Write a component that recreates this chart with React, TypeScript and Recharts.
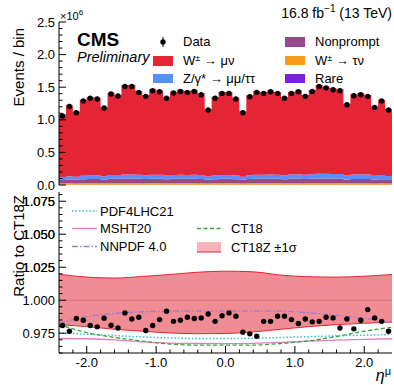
import React from 'react';
import { ComposedChart, Area, Line, Scatter, XAxis, YAxis, ReferenceLine } from 'recharts';

const FONT = '"Liberation Sans", Arial, Helvetica, sans-serif';

// 48 bins of 0.1 in muon pseudorapidity
const etaMin = -2.4;
const binWidth = 0.1;

// events / bin in units of 10^6
const dataCounts = [
  1.06, 1.205, 1.11, 1.29, 1.33, 1.32, 1.18, 1.395, 1.365, 1.51, 1.51, 1.42,
  1.36, 1.445, 1.43, 1.33, 1.41, 1.435, 1.42, 1.435, 1.385, 1.15, 1.33, 1.405,
  1.405, 1.32, 1.11, 1.355, 1.42, 1.405, 1.43, 1.405, 1.33, 1.405, 1.43, 1.36,
  1.435, 1.51, 1.49, 1.46, 1.445, 1.23, 1.37, 1.385, 1.36, 1.19, 1.29, 1.15,
];
const wmunu = [
  0.954, 1.088, 0.999, 1.168, 1.204, 1.193, 1.063, 1.264, 1.233, 1.371, 1.371, 1.285,
  1.229, 1.31, 1.295, 1.203, 1.276, 1.3, 1.286, 1.3, 1.254, 1.037, 1.205, 1.271,
  1.271, 1.194, 0.999, 1.224, 1.284, 1.269, 1.291, 1.267, 1.199, 1.266, 1.288, 1.223,
  1.292, 1.36, 1.34, 1.313, 1.299, 1.1, 1.229, 1.242, 1.218, 1.065, 1.155, 1.029,
];
const zll = [
  0.045, 0.05, 0.048, 0.053, 0.055, 0.056, 0.052, 0.058, 0.058, 0.062, 0.062, 0.06,
  0.058, 0.061, 0.06, 0.057, 0.06, 0.061, 0.06, 0.061, 0.059, 0.05, 0.056, 0.06,
  0.06, 0.057, 0.049, 0.059, 0.062, 0.062, 0.064, 0.064, 0.061, 0.065, 0.067, 0.065,
  0.069, 0.073, 0.073, 0.072, 0.072, 0.063, 0.07, 0.071, 0.07, 0.062, 0.067, 0.06,
];
const nonprompt = [
  0.055, 0.06, 0.057, 0.062, 0.064, 0.064, 0.058, 0.066, 0.066, 0.07, 0.07, 0.067,
  0.065, 0.067, 0.067, 0.063, 0.066, 0.067, 0.066, 0.067, 0.065, 0.056, 0.062, 0.066,
  0.066, 0.062, 0.055, 0.064, 0.066, 0.066, 0.067, 0.066, 0.063, 0.066, 0.067, 0.064,
  0.067, 0.07, 0.069, 0.068, 0.067, 0.059, 0.064, 0.065, 0.064, 0.057, 0.061, 0.055,
];
const wtaunu = [
  0.018, 0.02, 0.019, 0.021, 0.022, 0.022, 0.02, 0.023, 0.023, 0.025, 0.025, 0.024,
  0.023, 0.024, 0.024, 0.022, 0.024, 0.024, 0.024, 0.024, 0.023, 0.019, 0.022, 0.024,
  0.024, 0.022, 0.019, 0.023, 0.024, 0.024, 0.024, 0.024, 0.022, 0.024, 0.024, 0.023,
  0.024, 0.025, 0.025, 0.024, 0.024, 0.021, 0.023, 0.023, 0.023, 0.02, 0.022, 0.019,
];
const rare = [
  0.004, 0.005, 0.004, 0.005, 0.005, 0.005, 0.005, 0.005, 0.005, 0.005, 0.005, 0.005,
  0.005, 0.005, 0.005, 0.005, 0.005, 0.005, 0.005, 0.005, 0.005, 0.005, 0.005, 0.005,
  0.005, 0.005, 0.005, 0.005, 0.005, 0.005, 0.005, 0.005, 0.005, 0.005, 0.005, 0.005,
  0.005, 0.005, 0.005, 0.005, 0.005, 0.005, 0.005, 0.005, 0.005, 0.004, 0.004, 0.004,
];

// data / CT18Z
const ratioData = [
  0.9808, 0.9765, 0.9861, 0.9848, 0.9808, 0.9798, 0.9864, 0.981, 0.979, 0.9904, 0.9858, 0.9871,
  0.977, 0.9808, 0.9853, 0.9917, 0.984, 0.9848, 0.9871, 0.9861, 0.9866, 0.9896, 0.984, 0.9882,
  0.9904, 0.9879, 0.9758, 0.9745, 0.9727, 0.984, 0.984, 0.9879, 0.9879, 0.9853, 0.9823, 0.9858,
  0.9836, 0.984, 0.9871, 0.9866, 0.979, 0.9858, 0.9783, 0.9848, 0.9929, 0.9866, 0.984, 0.9765,
];

// PDF predictions relative to CT18Z
const curveEta = [-2.4, -2.0, -1.6, -1.2, -0.8, -0.4, 0, 0.4, 0.8, 1.2, 1.6, 2.0, 2.4];
const ct18zCentral = [1, 1, 1, 1, 1, 1, 1, 1, 1, 1, 1, 1, 1];
const ct18zUp = [1.0197, 1.0175, 1.0168, 1.018, 1.0195, 1.0212, 1.022, 1.0215, 1.019, 1.0178, 1.0175, 1.0182, 1.0195];
const ct18zDown = [0.9815, 0.98, 0.978, 0.9765, 0.9752, 0.9746, 0.9748, 0.976, 0.978, 0.98, 0.9815, 0.9825, 0.9835];
const pdf4lhc21 = [0.9752, 0.9742, 0.9732, 0.9722, 0.9714, 0.971, 0.971, 0.9712, 0.9718, 0.9724, 0.973, 0.9735, 0.974];
const msht20 = [0.971, 0.9708, 0.97, 0.9685, 0.9675, 0.9672, 0.9671, 0.9673, 0.968, 0.969, 0.9698, 0.9703, 0.9708];
const nnpdf40 = [0.9825, 0.9875, 0.99, 0.9912, 0.9917, 0.9918, 0.9918, 0.9918, 0.9917, 0.9905, 0.9885, 0.9862, 0.9835];
const ct18 = [0.9815, 0.9755, 0.9718, 0.969, 0.9668, 0.966, 0.9659, 0.966, 0.9672, 0.9692, 0.9725, 0.9765, 0.9795];

// labelled ticks of the ratio axis above unity
const ratioUpperLabels = [1.025, 1.05, 1.075];

const COL = {
  wmunu: '#e42536',
  zll: '#5790fc',
  nonprompt: '#964a8b',
  wtaunu: '#f89c20',
  rare: '#7a21dd',
  band: '#f08c94',
  pdf4lhc: '#2fc0d6',
  msht: '#e77ac6',
  nnpdf: '#a07ad8',
  ct18: '#36a636',
};

// step histogram rows: low edge of each bin plus the last upper edge
const stackRows = Array.from({ length: dataCounts.length + 1 }, (_, i) => {
  const j = Math.min(i, dataCounts.length - 1);
  return {
    eta: Number((etaMin + i * binWidth).toFixed(2)),
    rare: rare[j],
    wtaunu: wtaunu[j],
    nonprompt: nonprompt[j],
    zll: zll[j],
    wmunu: wmunu[j],
  };
});

const dataPoints = dataCounts.map((v, i) => ({
  eta: Number((etaMin + (i + 0.5) * binWidth).toFixed(2)),
  events: v,
}));

const ratioPoints = ratioData.map((v, i) => ({
  eta: Number((etaMin + (i + 0.5) * binWidth).toFixed(2)),
  ratio: v,
}));

const curveRows = curveEta.map((e, i) => ({
  eta: e,
  band: [ct18zDown[i], ct18zUp[i]],
  central: ct18zCentral[i],
  pdf4lhc21: pdf4lhc21[i],
  msht20: msht20[i],
  nnpdf40: nnpdf40[i],
  ct18: ct18[i],
}));

// tick positions in integer thousandths to avoid float trouble
const steps = (a: number, b: number, s: number) => {
  const out: number[] = [];
  for (let k = a; k <= b; k += s) out.push(k / 1000);
  return out;
};
const isMult = (v: number, m: number) => Math.round(v * 1000) % Math.round(m * 1000) === 0;

const xTicks = steps(-2200, 2200, 200);
const yTopTicks = steps(0, 2500, 100);
const yRatioTicks = steps(960, 1080, 5);

function yTick(side: 'left' | 'right', major: number, digits: number) {
  return (p: any) => {
    const v = Number(p.payload.value);
    const big = isMult(v, major);
    const len = big ? 7 : 3.5;
    const dx = side === 'left' ? len : -len;
    return (
      <g>
        <line x1={p.x} y1={p.y} x2={p.x + dx} y2={p.y} stroke="#000" strokeWidth={1} />
        <text x={p.x - 4} y={p.y + 4.5} textAnchor="end" fontSize={13} fontFamily={FONT} fill="#000">
          {side === 'left' && big ? v.toFixed(digits) : ''}
        </text>
      </g>
    );
  };
}

function xTick(side: 'top' | 'bottom', labels: boolean) {
  return (p: any) => {
    const v = Number(p.payload.value);
    const big = isMult(v, 1);
    const len = big ? 7 : 3.5;
    const dy = side === 'bottom' ? -len : len;
    return (
      <g>
        <line x1={p.x} y1={p.y} x2={p.x} y2={p.y + dy} stroke="#000" strokeWidth={1} />
        <text x={p.x} y={p.y + 14} textAnchor="middle" fontSize={13} fontFamily={FONT} fill="#000">
          {labels && big ? v.toFixed(1) : ''}
        </text>
      </g>
    );
  };
}

const Dot = (p: any) => <circle cx={p.cx} cy={p.cy} r={2.7} fill="#000" />;

const axisLine = { stroke: '#000', strokeWidth: 1 };

function Axes({ pre, yDomain, yTicks, major, digits, xLabels, xHeight }: any) {
  return [
    <XAxis key="xb" xAxisId={`${pre}b`} dataKey="eta" type="number" domain={[-2.4, 2.4]} allowDataOverflow
      ticks={xTicks} interval={0} tickSize={0} tickMargin={0} tickLine={false} height={xHeight}
      axisLine={axisLine} tick={xTick('bottom', xLabels)} />,
    <XAxis key="xt" xAxisId={`${pre}t`} orientation="top" dataKey="eta" type="number" domain={[-2.4, 2.4]} allowDataOverflow
      ticks={xTicks} interval={0} tickSize={0} tickMargin={0} tickLine={false} height={0}
      axisLine={axisLine} tick={xTick('top', false)} />,
    <YAxis key="yl" yAxisId={`${pre}l`} type="number" domain={yDomain} allowDataOverflow ticks={yTicks} interval={0}
      tickSize={0} tickMargin={0} tickLine={false} width={59} axisLine={axisLine} tick={yTick('left', major, digits)} />,
    <YAxis key="yr" yAxisId={`${pre}r`} orientation="right" type="number" domain={yDomain} allowDataOverflow ticks={yTicks}
      interval={0} tickSize={0} tickMargin={0} tickLine={false} width={0} axisLine={axisLine}
      tick={yTick('right', major, digits)} />,
  ];
}

const txt = { fontFamily: FONT, fill: '#000' };

function Overlay() {
  return (
    <svg width={394} height={385} style={{ position: 'absolute', left: 0, top: 0, pointerEvents: 'none' }}>
      <g {...txt}>
        <text x={60} y={20} fontSize={11}>
          ×10<tspan dy={-5} fontSize={8}>6</tspan>
        </text>
        <text x={392} y={18} fontSize={14} textAnchor="end">
          16.8 fb<tspan dy={-6} fontSize={10}>−1</tspan>
          <tspan dy={6}> (13 TeV)</tspan>
        </text>
        <text x={77} y={46} fontSize={19} fontWeight="bold">CMS</text>
        <text x={77} y={62} fontSize={14.5} fontStyle="italic">Preliminary</text>
        <text transform="translate(24,28) rotate(-90)" textAnchor="end" fontSize={15}>Events / bin</text>
        <text transform="translate(24,195) rotate(-90)" textAnchor="end" fontSize={15}>Ratio to CT18Z</text>
        <text x={391} y={381} textAnchor="end" fontSize={16}>
          <tspan fontStyle="italic">η</tspan>
          <tspan dy={-6} fontSize={11}>μ</tspan>
        </text>

        {/* top legend */}
        <line x1={163} y1={37} x2={163} y2={47} stroke="#000" strokeWidth={1} />
        <circle cx={163} cy={42} r={2.7} fill="#000" />
        <text x={183} y={46} fontSize={13}>Data</text>
        <rect x={153} y={56} width={20} height={10} fill={COL.wmunu} />
        <text x={183} y={65} fontSize={13}>
          W<tspan dy={-4} fontSize={9}>±</tspan><tspan dy={4}> → μν</tspan>
        </text>
        <rect x={153} y={74} width={20} height={9} fill={COL.zll} />
        <text x={183} y={83} fontSize={13}>Z/γ* → μμ/ττ</text>
        <rect x={285} y={37} width={20} height={10} fill={COL.nonprompt} />
        <text x={315} y={46} fontSize={13}>Nonprompt</text>
        <rect x={285} y={56} width={20} height={9} fill={COL.wtaunu} />
        <text x={315} y={65} fontSize={13}>
          W<tspan dy={-4} fontSize={9}>±</tspan><tspan dy={4}> → τν</tspan>
        </text>
        <rect x={285} y={74} width={20} height={9} fill={COL.rare} />
        <text x={315} y={83} fontSize={13}>Rare</text>

        {/* ratio legend */}
        <line x1={72} y1={211} x2={97} y2={211} stroke={COL.pdf4lhc} strokeWidth={1.5} strokeDasharray="1.5 2" />
        <text x={100} y={216} fontSize={13}>PDF4LHC21</text>
        <line x1={72} y1={228.5} x2={97} y2={228.5} stroke={COL.msht} strokeWidth={1.3} />
        <text x={100} y={233} fontSize={13}>MSHT20</text>
        <line x1={72} y1={246.5} x2={97} y2={246.5} stroke={COL.nnpdf} strokeWidth={1.3} strokeDasharray="6 2 1.5 2" />
        <text x={100} y={251} fontSize={13}>NNPDF 4.0</text>
        <line x1={197} y1={228.5} x2={221} y2={228.5} stroke={COL.ct18} strokeWidth={1.3} strokeDasharray="4 2.5" />
        <text x={231} y={233} fontSize={13}>CT18</text>
        <rect x={197} y={242} width={24} height={10} fill="#f4b4ba" />
        <line x1={197} y1={252} x2={221} y2={252} stroke={COL.wmunu} strokeWidth={1} />
        <text x={231} y={252} fontSize={13}>CT18Z ±1σ</text>
      </g>
    </svg>
  );
}

export default function App() {
  return (
    <div style={{ position: 'absolute', left: 0, top: 0, width: 394, height: 385, background: '#fff' }}>
      <Overlay />
      <div style={{ position: 'absolute', left: 0, top: 0 }}>
        <ComposedChart id="main" width={394} height={192} data={stackRows} margin={{ top: 22, right: 2, bottom: 7, left: 0 }}>
          {Axes({ pre: 'm', yDomain: [0, 2.5], yTicks: yTopTicks, major: 0.5, digits: 1, xLabels: false, xHeight: 0 })}
          <Area xAxisId="mb" yAxisId="ml" stackId="mc" type="stepAfter" dataKey="rare" fill={COL.rare} fillOpacity={1} stroke="none" isAnimationActive={false} />
          <Area xAxisId="mb" yAxisId="ml" stackId="mc" type="stepAfter" dataKey="wtaunu" fill={COL.wtaunu} fillOpacity={1} stroke="none" isAnimationActive={false} />
          <Area xAxisId="mb" yAxisId="ml" stackId="mc" type="stepAfter" dataKey="nonprompt" fill={COL.nonprompt} fillOpacity={1} stroke="none" isAnimationActive={false} />
          <Area xAxisId="mb" yAxisId="ml" stackId="mc" type="stepAfter" dataKey="zll" fill={COL.zll} fillOpacity={1} stroke="none" isAnimationActive={false} />
          <Area xAxisId="mb" yAxisId="ml" stackId="mc" type="stepAfter" dataKey="wmunu" fill={COL.wmunu} fillOpacity={1} stroke="none" isAnimationActive={false} />
          {/* invisible series so the mirrored top/right axes get drawn */}
          <Line xAxisId="mt" yAxisId="mr" type="stepAfter" dataKey="wmunu" stroke="none" dot={false} activeDot={false} isAnimationActive={false} />
          <Scatter xAxisId="mb" yAxisId="ml" data={dataPoints} dataKey="events" shape={Dot} isAnimationActive={false} />
        </ComposedChart>
      </div>
      <div style={{ position: 'absolute', left: 0, top: 186 }}>
        <ComposedChart id="ratio" width={394} height={199} data={curveRows} margin={{ top: 6, right: 2, bottom: 0, left: 0 }}>
          {Axes({ pre: 'q', yDomain: [0.96, 1.082], yTicks: yRatioTicks, major: 0.025, digits: 3, xLabels: true, xHeight: 32 })}
          <Area xAxisId="qb" yAxisId="ql" type="monotone" dataKey="band" fill={COL.band} fillOpacity={1} stroke={COL.wmunu} strokeWidth={1} isAnimationActive={false} />
          <Line xAxisId="qb" yAxisId="ql" type="monotone" dataKey="central" stroke="#d9606c" strokeOpacity={0.6} strokeWidth={1} dot={false} activeDot={false} isAnimationActive={false} />
          <Line xAxisId="qb" yAxisId="ql" type="monotone" dataKey="pdf4lhc21" stroke={COL.pdf4lhc} strokeWidth={1.5} strokeDasharray="1.5 2" dot={false} isAnimationActive={false} />
          <Line xAxisId="qb" yAxisId="ql" type="monotone" dataKey="msht20" stroke={COL.msht} strokeWidth={1.3} dot={false} isAnimationActive={false} />
          <Line xAxisId="qb" yAxisId="ql" type="monotone" dataKey="nnpdf40" stroke={COL.nnpdf} strokeWidth={1.3} strokeDasharray="6 2 1.5 2" dot={false} isAnimationActive={false} />
          <Line xAxisId="qb" yAxisId="ql" type="monotone" dataKey="ct18" stroke={COL.ct18} strokeWidth={1.3} strokeDasharray="4 2.5" dot={false} isAnimationActive={false} />
          {/* invisible series so the mirrored top/right axes get drawn */}
          <Line xAxisId="qt" yAxisId="qr" type="monotone" dataKey="central" stroke="none" dot={false} activeDot={false} isAnimationActive={false} />
          <Scatter xAxisId="qb" yAxisId="ql" data={ratioPoints} dataKey="ratio" shape={Dot} isAnimationActive={false} />
          {/* tick labels above unity, placed through the ratio scale */}
          {ratioUpperLabels.map((v) => (
            <ReferenceLine key={v} xAxisId="qb" yAxisId="ql" y={v} stroke="none"
              label={{ value: v.toFixed(3), position: 'left', offset: 4, fontSize: 13, fontFamily: FONT, fill: '#000' }} />
          ))}
        </ComposedChart>
      </div>
    </div>
  );
}
